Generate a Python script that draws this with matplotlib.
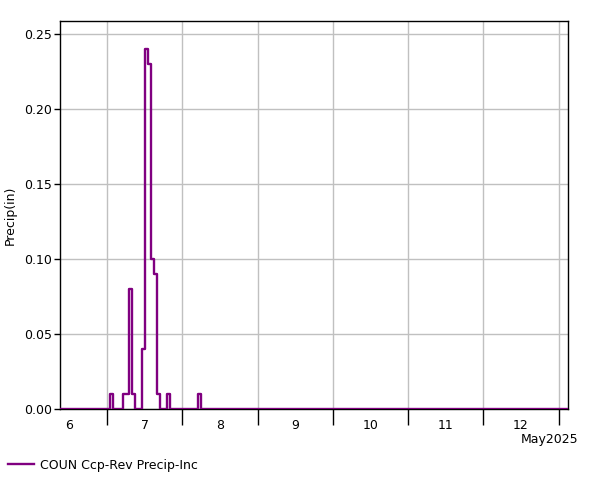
import pandas as pd
import matplotlib
matplotlib.use("Agg")
import matplotlib.pyplot as plt
import matplotlib.dates as mdates

# hourly incremental precip (in), hour-beginning values
start = "2025-05-06 09:00"
may06 = [0.0] * 15  # 09:00 - 23:00
may07 = [0.0, 0.01, 0.0, 0.0, 0.0, 0.01, 0.01, 0.08, 0.01, 0.0, 0.0, 0.04,
         0.24, 0.23, 0.10, 0.09, 0.01, 0.0, 0.0, 0.01, 0.0, 0.0, 0.0, 0.0]
may08 = [0.0, 0.0, 0.0, 0.0, 0.0, 0.01, 0.0, 0.0, 0.0, 0.0, 0.0, 0.0,
         0.0, 0.0, 0.0, 0.0, 0.0, 0.0, 0.0, 0.0, 0.0, 0.0, 0.0, 0.0]
may09 = [0.0] * 24
may10 = [0.0] * 24
may11 = [0.0] * 24
may12 = [0.0] * 24
may13 = [0.0] * 4  # 00:00 - 03:00

values = may06 + may07 + may08 + may09 + may10 + may11 + may12 + may13
times = pd.date_range(start, periods=len(values), freq="h")

day_labels = ["6", "7", "8", "9", "10", "11", "12"]
y_ticks = [0.00, 0.05, 0.10, 0.15, 0.20, 0.25]
series_name = "COUN Ccp-Rev Precip-Inc"

plt.rcParams["font.family"] = ["DejaVu Sans"]
plt.rcParams["font.size"] = 9

fig = plt.figure(figsize=(6.01, 4.80), dpi=100)
ax = fig.add_axes([60 / 601, 1 - 409 / 480, 508 / 601, (409 - 20.7) / 480])

line, = ax.step(times, values, where="post", color="#800080", lw=1.7,
                label=series_name, zorder=3)

ax.set_xlim(times[0], times[-1])
ax.set_ylim(0, max(values) * 1.08)

# midnight ticks (long, no label); day labels centred at noon
midnights = pd.date_range("2025-05-07", "2025-05-13", freq="D")
noons = pd.date_range("2025-05-06 12:00", periods=len(day_labels), freq="D")
ax.set_xticks(mdates.date2num(midnights))
ax.set_xticklabels([])
ax.set_xticks(mdates.date2num(noons), minor=True)
ax.set_xticklabels(day_labels, minor=True)
ax.tick_params(axis="x", which="major", length=11.5, width=1, direction="out")
ax.tick_params(axis="x", which="minor", length=0, pad=7)

ax.set_yticks(y_ticks)
ax.set_yticklabels([f"{v:.2f}" for v in y_ticks])
ax.tick_params(axis="y", length=4, width=1, pad=2)
ax.set_ylabel("Precip(in)", labelpad=5)

ax.grid(True, which="major", color="#c0c0c0", lw=1)
ax.set_axisbelow(True)
for s in ax.spines.values():
    s.set_color("black")
    s.set_linewidth(1)

fig.text(550 / 601, 1 - 440 / 480, "May2025", ha="center", va="center")

fig.legend(handles=[line], loc="center left", bbox_to_anchor=(8 / 601, 1 - 465 / 480),
           frameon=False, borderpad=0, borderaxespad=0, handlelength=2.1,
           handletextpad=0.45, fontsize=9)

fig.savefig("out.png", dpi=100)
